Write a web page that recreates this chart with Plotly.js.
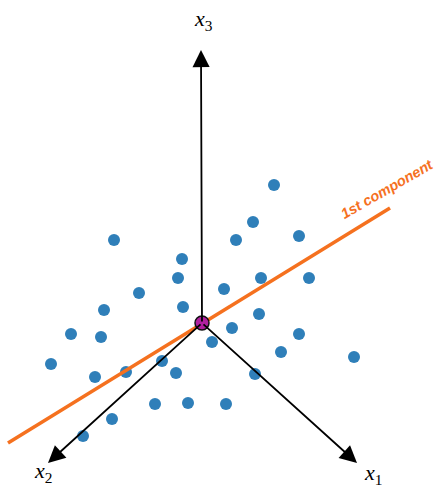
<!DOCTYPE html>
<html>
<head>
<meta charset="utf-8">
<script src="https://cdn.plot.ly/plotly-3.0.1.min.js"></script>
<style>html,body{margin:0;padding:0;background:#fff;}#chart{width:437px;height:490px;}</style>
</head>
<body>
<div id="chart"></div>
<script>
// Data (picture coordinates: x right, y down)
var pointX = [274,253,236,299,114,182,178,139,261,309,224,104,183,259,232,71,101,299,212,281,354,51,162,126,95,176,255,155,188,226,112,83];
var pointY = [185,222,240,236,240,259,278,293,278,278,289,310,307,314,328,334,337,334,342,352,357,364,361,372,377,373,374,404,403,404,419,436];
var originX = [202];
var originY = [323];
var axisTipX = [201, 48, 357];
var axisTipY = [50, 463, 463];
var axisLabels = ['<i>x</i><sub>3</sub>', '<i>x</i><sub>2</sub>', '<i>x</i><sub>1</sub>'];
var axisLabelX = [203, 43, 373];
var axisLabelY = [20, 472, 474];
var componentX = [8, 390];
var componentY = [443, 208];
var componentLabel = '1st component';

var traces = [
  {x: pointX, y: pointY, mode: 'markers', type: 'scatter',
   marker: {color: '#2f7fb9', size: 12, line: {width: 0}}, hoverinfo: 'skip'},
  {x: componentX, y: componentY, mode: 'lines', type: 'scatter',
   line: {color: '#f5711f', width: 3.5}, hoverinfo: 'skip'},
  {x: originX, y: originY, mode: 'markers', type: 'scatter',
   marker: {color: '#b0209f', size: 14, line: {color: '#111', width: 1.5}}, hoverinfo: 'skip'}
];

var annotations = [];
for (var i = 0; i < axisTipX.length; i++) {
  annotations.push({
    x: axisTipX[i], y: axisTipY[i], xref: 'x', yref: 'y',
    ax: originX[0], ay: originY[0], axref: 'x', ayref: 'y',
    showarrow: true, arrowhead: 2, arrowsize: 1.9, arrowwidth: 1.8,
    arrowcolor: '#000', text: '', standoff: 0, startstandoff: 0
  });
  annotations.push({
    x: axisLabelX[i], y: axisLabelY[i], xref: 'x', yref: 'y',
    text: axisLabels[i], showarrow: false,
    font: {family: 'Liberation Serif, Times New Roman, serif', size: 22, color: '#000'}
  });
}
annotations.push({
  x: 387, y: 189, xref: 'x', yref: 'y', text: '<b><i>' + componentLabel + '</i></b>',
  showarrow: false, textangle: -30,
  font: {family: 'Liberation Sans, Arial, sans-serif', size: 14.5, color: '#f5711f'}
});

var layout = {
  width: 437, height: 490,
  margin: {l: 0, r: 0, t: 0, b: 0},
  paper_bgcolor: '#fff', plot_bgcolor: '#fff',
  showlegend: false,
  xaxis: {range: [0, 437], visible: false, fixedrange: true},
  yaxis: {range: [490, 0], visible: false, fixedrange: true},
  annotations: annotations
};

Plotly.newPlot('chart', traces, layout, {displayModeBar: false, staticPlot: true});
</script>
</body>
</html>
